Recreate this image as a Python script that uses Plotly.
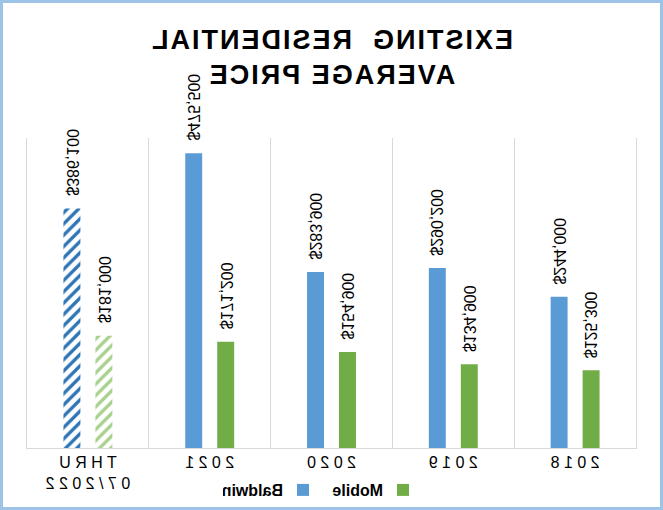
"""
Existing residential average price - grouped bars, drawn mirrored like the source picture
"""

import plotly.graph_objects as go

categories = ["2018", "2019", "2020", "2021", "THRU 07/2022"]
tick_labels = ["2018", "2019", "2020", "2021", "THRU\n07/2022"]
mobile = [125300, 134900, 154900, 171200, 181000]
baldwin = [244000, 290200, 283900, 475500, 386100]
series_names = ["Mobile", "Baldwin"]

W, H = 663, 510
ML, MR, MT, MB = 27, 27, 138, 62
PW, PH = W - ML - MR, H - MT - MB
BARGAP = 0.475
FONT = "Liberation Sans, Arial"


def spaced(label):
    # category labels are drawn with wide letter spacing
    return "<br>".join(" ".join(part) for part in label.split("\n"))


fig = go.Figure()

series = [
    (series_names[0], mobile, "#70AD47", "#A9D18E"),
    (series_names[1], baldwin, "#5B9BD5", "#2E75B6"),
]

n = len(categories)
for name, vals, solid, stripe in series:
    # the last (partial year) bar is hatched
    fig.add_trace(go.Bar(
        x=categories,
        y=vals,
        name=name,
        marker=dict(
            color=[solid] * (n - 1) + [stripe],
            line=dict(width=0),
            pattern=dict(
                shape=[""] * (n - 1) + ["\\"],
                bgcolor="white",
                fillmode="replace",
                size=8,
                solidity=0.42,
            ),
        ),
    ))

# value labels above the bars (x given as category index),
# centred on a point a fixed distance above the bar top
slot = (1 - BARGAP) / 2 * PW / n
for k, (name, vals, solid, stripe) in enumerate(series):
    shift = (k - 0.5) * slot
    for i, v in enumerate(vals):
        fig.add_annotation(
            x=i, y=v, xref="x", yref="y",
            text=f"${v:,}",
            textangle=-90,
            xanchor="center", yanchor="middle",
            xshift=shift, yshift=46,
            showarrow=False,
            font=dict(family=FONT, size=16, color="#000000"),
        )

# light blue frame round the whole chart
fig.add_shape(
    type="rect", xref="paper", yref="paper",
    x0=(1.5 - ML) / PW, x1=(W - 1.5 - ML) / PW,
    y0=(H - MB - (H - 1.5)) / PH, y1=(H - MB - 1.5) / PH,
    line=dict(color="#9DC3E6", width=3),
    fillcolor="rgba(0,0,0,0)",
    layer="above",
)

fig.update_layout(
    title=dict(
        text="EXISTING  RESIDENTIAL<br>AVERAGE PRICE",
        x=0.5, xanchor="center",
        y=1 - 49 / H, yanchor="middle",
        font=dict(family=FONT, size=27, color="#000000", weight="bold"),
    ),
    width=W,
    height=H,
    margin=dict(l=ML, r=MR, t=MT, b=MB, autoexpand=False),
    paper_bgcolor="white",
    plot_bgcolor="white",
    barmode="group",
    bargap=BARGAP,
    bargroupgap=0.47,
    showlegend=True,
    legend=dict(
        orientation="h",
        x=(240 - ML) / PW, xanchor="left",
        y=-(490 - (H - MB)) / PH, yanchor="middle",
        font=dict(family=FONT, size=16, color="#000000", weight="bold"),
        entrywidth=55,
        itemclick=False,
    ),
    xaxis=dict(
        type="category",
        range=[-0.5, n - 0.5],
        tickvals=categories,
        ticktext=[spaced(t) for t in tick_labels],
        tickson="boundaries",
        showgrid=True,
        gridcolor="#D9D9D9",
        gridwidth=1,
        showline=True,
        linecolor="#D9D9D9",
        linewidth=1,
        ticks="outside",
        ticklen=14,
        tickcolor="rgba(0,0,0,0)",
        tickfont=dict(family=FONT, size=16, color="#000000"),
        fixedrange=True,
    ),
    yaxis=dict(
        range=[0, 500000],
        showticklabels=False,
        showgrid=False,
        zeroline=False,
        showline=True,
        mirror=True,
        linecolor="#D9D9D9",
        linewidth=1,
        ticks="",
        fixedrange=True,
    ),
)

post = """
var gd = document.getElementById('{plot_id}');
document.body.style.margin = '0';
gd.querySelectorAll('.gtitle').forEach(function (t) {
    t.style.letterSpacing = '2px';
});
gd.style.transform = 'scaleX(-1)';
"""

fig.write_html("out.html", post_script=post, config={"displayModeBar": False})
